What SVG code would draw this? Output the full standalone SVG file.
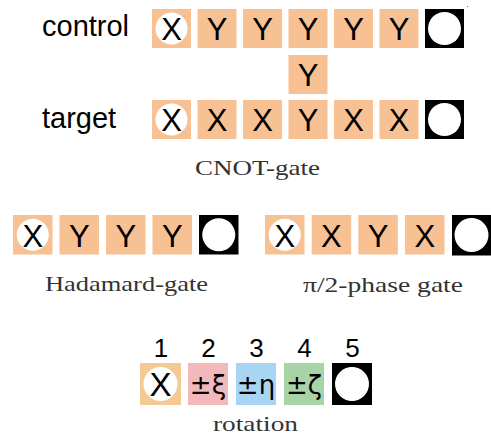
<svg xmlns="http://www.w3.org/2000/svg" width="491" height="439" viewBox="0 0 491 439">
<style>
.b{fill:#f8c194}
.k{fill:#000}
.w{fill:#fff}
.t{font-family:"Liberation Sans",Arial,sans-serif;font-size:31px;fill:#000;text-anchor:middle}
.lbl{font-family:"Liberation Sans",Arial,sans-serif;font-size:29px;fill:#000}
.num{font-family:"Liberation Sans",Arial,sans-serif;font-size:26px;fill:#000;text-anchor:middle}
.cap{font-family:"Liberation Serif","Times New Roman",serif;font-size:22px;fill:#333;text-anchor:middle}
.g{font-family:"DejaVu Sans","Liberation Sans",sans-serif;font-size:26px;fill:#000;text-anchor:middle}
</style>
<rect width="491" height="439" fill="#fff"/>
<circle cx="467.5" cy="6.5" r="0.6" fill="#555"/>
<text class="lbl" x="42" y="36">control</text>
<text class="lbl" x="42" y="128">target</text>
<g id="control">
<g id="c1"><rect class="b" x="152" y="9" width="39" height="39"/><circle class="w" cx="171.5" cy="28.5" r="16"/><text class="t" x="171.5" y="40">X</text></g>
<g id="c2"><rect class="b" x="197.5" y="9" width="39" height="39"/><text class="t" x="217" y="40">Y</text></g>
<g id="c3"><rect class="b" x="243" y="9" width="39" height="39"/><text class="t" x="262.5" y="40">Y</text></g>
<g id="c4"><rect class="b" x="288.5" y="9" width="39" height="39"/><text class="t" x="308" y="40">Y</text></g>
<g id="c5"><rect class="b" x="334" y="9" width="39" height="39"/><text class="t" x="353.5" y="40">Y</text></g>
<g id="c6"><rect class="b" x="379.5" y="9" width="39" height="39"/><text class="t" x="399" y="40">Y</text></g>
<g id="c7"><rect class="k" x="425" y="9" width="39" height="39"/><circle class="w" cx="444.5" cy="28.5" r="16.5"/></g>
</g>
<g id="mid"><rect class="b" x="288.5" y="55" width="39" height="39"/><text class="t" x="308" y="86">Y</text></g>
<g id="target">
<g id="t1"><rect class="b" x="152" y="100" width="39" height="39"/><circle class="w" cx="171.5" cy="119.5" r="16"/><text class="t" x="171.5" y="131">X</text></g>
<g id="t2"><rect class="b" x="197.5" y="100" width="39" height="39"/><text class="t" x="217" y="131">X</text></g>
<g id="t3"><rect class="b" x="243" y="100" width="39" height="39"/><text class="t" x="262.5" y="131">X</text></g>
<g id="t4"><rect class="b" x="288.5" y="100" width="39" height="39"/><text class="t" x="308" y="131">Y</text></g>
<g id="t5"><rect class="b" x="334" y="100" width="39" height="39"/><text class="t" x="353.5" y="131">X</text></g>
<g id="t6"><rect class="b" x="379.5" y="100" width="39" height="39"/><text class="t" x="399" y="131">X</text></g>
<g id="t7"><rect class="k" x="425" y="100" width="39" height="39"/><circle class="w" cx="444.5" cy="119.5" r="16.5"/></g>
</g>
<text class="cap" x="257.5" y="175" textLength="125" lengthAdjust="spacingAndGlyphs">CNOT-gate</text>
<g id="hadamard">
<g id="h1"><rect class="b" x="13" y="215" width="39.5" height="39.5"/><circle class="w" cx="32.75" cy="234.75" r="16"/><text class="t" x="32.75" y="246.5">X</text></g>
<g id="h2"><rect class="b" x="59.5" y="215" width="39.5" height="39.5"/><text class="t" x="79.25" y="246.5">Y</text></g>
<g id="h3"><rect class="b" x="106" y="215" width="39.5" height="39.5"/><text class="t" x="125.75" y="246.5">Y</text></g>
<g id="h4"><rect class="b" x="152.5" y="215" width="39.5" height="39.5"/><text class="t" x="172.25" y="246.5">Y</text></g>
<g id="h5"><rect class="k" x="199" y="215" width="39.5" height="39.5"/><circle class="w" cx="218.75" cy="234.75" r="16.5"/></g>
</g>
<text class="cap" x="126.5" y="291" textLength="163" lengthAdjust="spacingAndGlyphs">Hadamard-gate</text>
<g id="phase">
<g id="p1"><rect class="b" x="265" y="215" width="39.5" height="39.5"/><circle class="w" cx="284.75" cy="234.75" r="16"/><text class="t" x="284.75" y="246.5">X</text></g>
<g id="p2"><rect class="b" x="311.7" y="215" width="39.5" height="39.5"/><text class="t" x="331.45" y="246.5">X</text></g>
<g id="p3"><rect class="b" x="358.3" y="215" width="39.5" height="39.5"/><text class="t" x="378.05" y="246.5">Y</text></g>
<g id="p4"><rect class="b" x="405" y="215" width="39.5" height="39.5"/><text class="t" x="424.75" y="246.5">X</text></g>
<g id="p5"><rect class="k" x="452" y="215" width="39" height="40.5"/><circle class="w" cx="471.5" cy="235" r="17"/></g>
</g>
<text class="cap" x="383" y="292" textLength="160" lengthAdjust="spacingAndGlyphs">π/2-phase gate</text>
<g id="rotation">
<text class="num" x="161" y="357">1</text>
<text class="num" x="208.5" y="357">2</text>
<text class="num" x="256.5" y="357">3</text>
<text class="num" x="304.5" y="357">4</text>
<text class="num" x="352.5" y="357">5</text>
<g id="r1"><rect x="140" y="363" width="41" height="42" fill="#f5c993"/><circle class="w" cx="160.5" cy="384" r="17"/><text class="t" x="160.5" y="396" style="font-size:33px">X</text></g>
<g id="r2"><rect x="188" y="363" width="40" height="42" fill="#f3b8bc"/><text class="g" x="208" y="394">±ξ</text></g>
<g id="r3"><rect x="236" y="363" width="40" height="42" fill="#a8d5f3"/><text class="g" x="256" y="394">±η</text></g>
<g id="r4"><rect x="284" y="363" width="40" height="42" fill="#a7d3a6"/><text class="g" x="304" y="394">±ζ</text></g>
<g id="r5"><rect class="k" x="332" y="363" width="40" height="42"/><circle class="w" cx="352" cy="384" r="17"/></g>
</g>
<text class="cap" x="255.5" y="431" textLength="85" lengthAdjust="spacingAndGlyphs">rotation</text>
</svg>
